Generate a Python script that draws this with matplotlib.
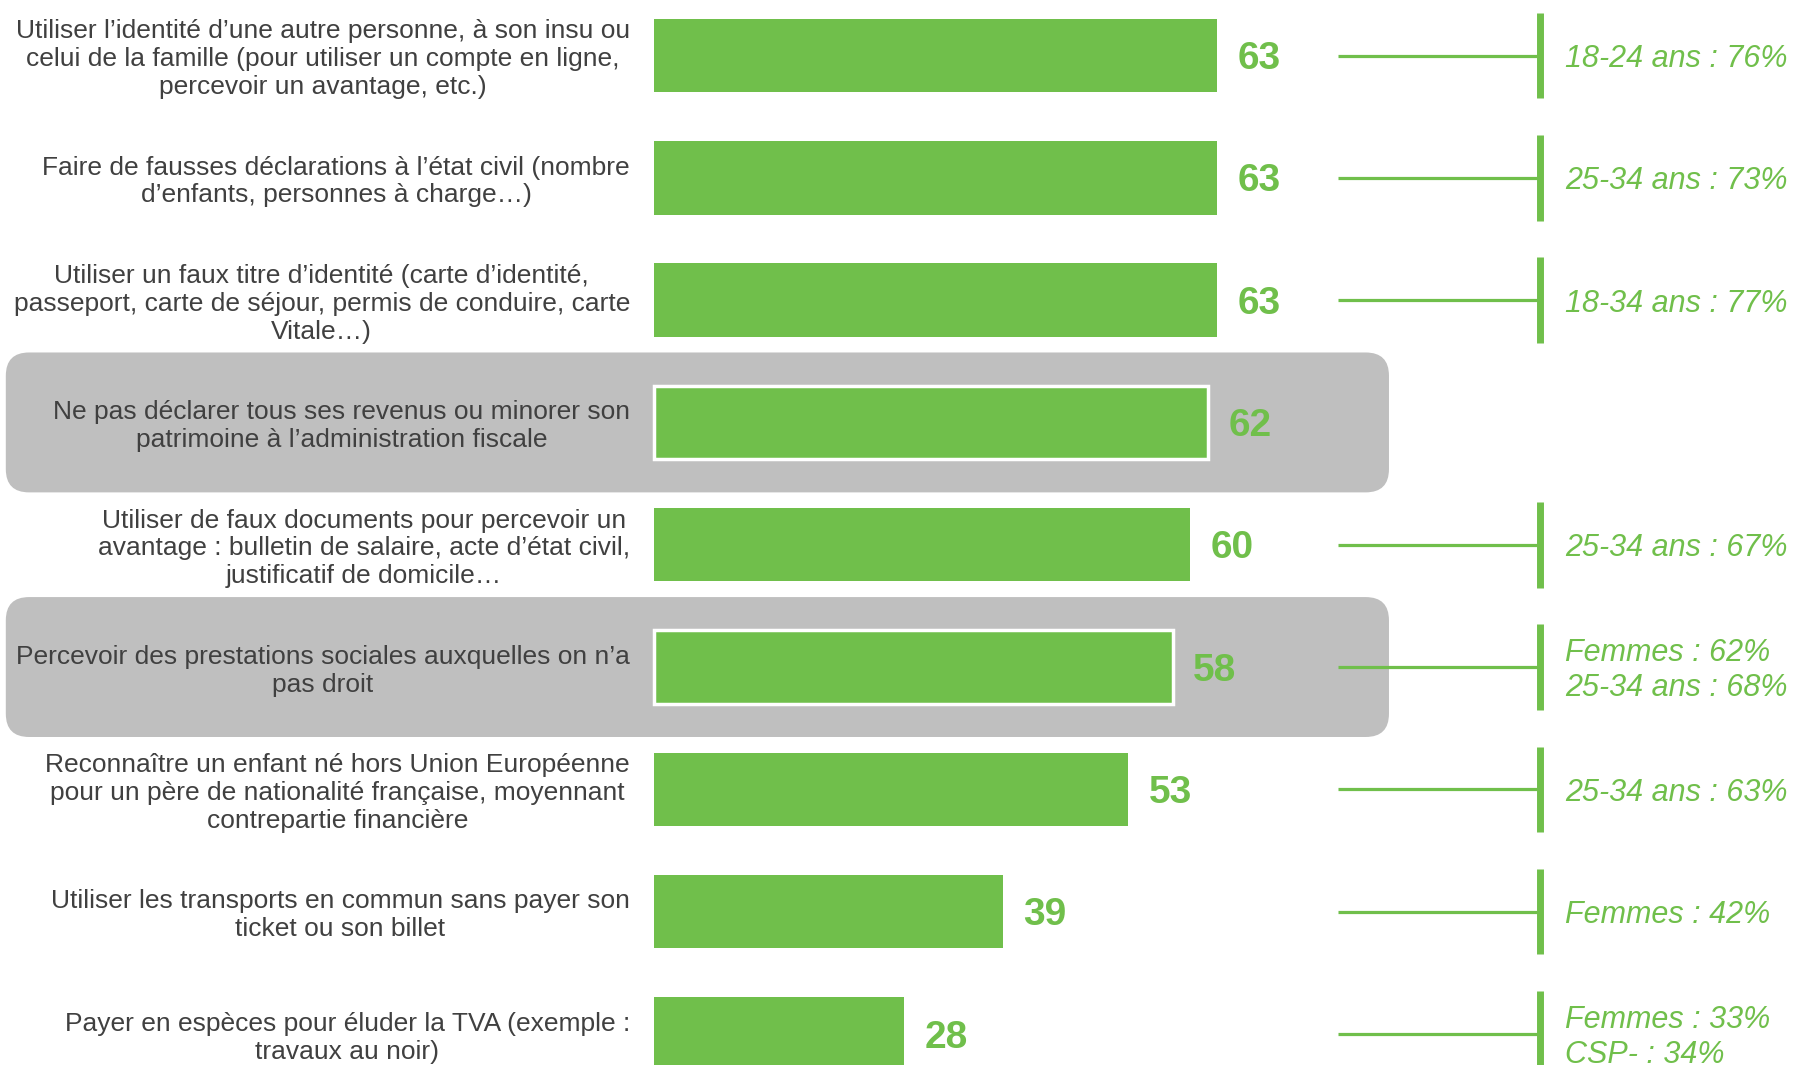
import matplotlib
matplotlib.use("Agg")
import matplotlib.pyplot as plt
from matplotlib.patches import FancyBboxPatch
from matplotlib import font_manager

# données
categories = [
    "Utiliser l’identité d’une autre personne, à son insu ou\ncelui de la famille (pour utiliser un compte en ligne,\npercevoir un avantage, etc.)",
    "Faire de fausses déclarations à l’état civil (nombre\nd’enfants, personnes à charge…)",
    "Utiliser un faux titre d’identité (carte d’identité,\npasseport, carte de séjour, permis de conduire, carte\nVitale…)",
    "Ne pas déclarer tous ses revenus ou minorer son\npatrimoine à l’administration fiscale",
    "Utiliser de faux documents pour percevoir un\navantage : bulletin de salaire, acte d’état civil,\njustificatif de domicile…",
    "Percevoir des prestations sociales auxquelles on n’a\npas droit",
    "Reconnaître un enfant né hors Union Européenne\npour un père de nationalité française, moyennant\ncontrepartie financière",
    "Utiliser les transports en commun sans payer son\nticket ou son billet",
    "Payer en espèces pour éluder la TVA (exemple :\ntravaux au noir)",
]
values = [63, 63, 63, 62, 60, 58, 53, 39, 28]
highlighted = [3, 5]
notes = [
    "18-24 ans : 76%",
    "25-34 ans : 73%",
    "18-34 ans : 77%",
    "",
    "25-34 ans : 67%",
    "Femmes : 62%\n25-34 ans : 68%",
    "25-34 ans : 63%",
    "Femmes : 42%",
    "Femmes : 33%\nCSP- : 34%",
]

GREEN = "#70bf4b"
GREY_BOX = "#bfbfbf"
TEXT = "#404040"

names = {f.name for f in font_manager.fontManager.ttflist}
narrow = "Liberation Sans Narrow" if "Liberation Sans Narrow" in names else "Liberation Sans"
val_size = 33 if narrow == "Liberation Sans Narrow" else 28

fig = plt.figure(figsize=(17.94, 10.65), dpi=100)
ax = fig.add_axes([0, 0, 1, 1])
ax.set_xlim(-73.15, 127.5)
ax.set_ylim(8.254, -0.454)
ax.axis("off")

y = list(range(len(values)))

# boites grises
for i in highlighted:
    box = FancyBboxPatch((-72.5, i - 0.572), 154.7, 1.144,
                         boxstyle="round,pad=0,rounding_size=2.6",
                         mutation_aspect=0.0732,
                         facecolor=GREY_BOX, edgecolor="none", zorder=0)
    ax.add_patch(box)

bars = ax.barh(y, values, height=0.6, color=GREEN, zorder=2)
for i in highlighted:
    bars[i].set_edgecolor("white")
    bars[i].set_linewidth(2.5)

dy = 0.03  # petit décalage vers le bas du texte
for i, (cat, v, note) in enumerate(zip(categories, values, notes)):
    ax.text(-2.7, i + dy, cat, ha="right", va="center", multialignment="center",
            fontsize=19, color=TEXT, family="Liberation Sans", linespacing=1.2)
    ax.text(v + 2.3, i + dy, str(v), ha="left", va="center", fontsize=val_size,
            fontweight="bold", color=GREEN, family=narrow)
    if note:
        ax.plot([76.5, 99.1], [i, i], color=GREEN, lw=2.3, solid_capstyle="butt")
        ax.plot([99.1, 99.1], [i - 0.35, i + 0.35], color=GREEN, lw=5,
                solid_capstyle="butt")
        ax.text(101.9, i + dy, note, ha="left", va="center", fontsize=22,
                style="italic", color=GREEN, family="Liberation Sans",
                linespacing=1.2)

fig.savefig("out.png", dpi=100)
